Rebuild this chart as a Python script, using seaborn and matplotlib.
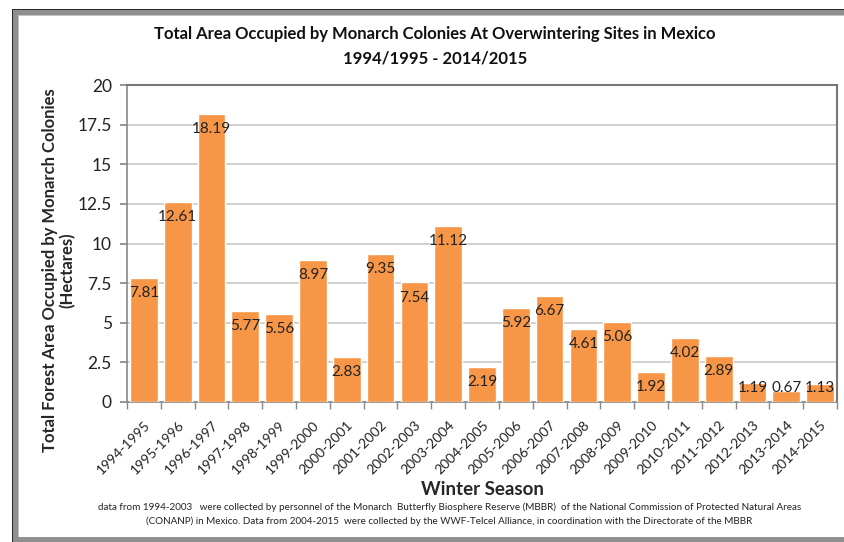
import numpy as np
import pandas as pd
import matplotlib
matplotlib.use("Agg")
import matplotlib.pyplot as plt
from matplotlib.patches import Rectangle
from matplotlib.ticker import FixedLocator
import seaborn as sns

seasons = ["1994-1995", "1995-1996", "1996-1997", "1997-1998", "1998-1999",
           "1999-2000", "2000-2001", "2001-2002", "2002-2003", "2003-2004",
           "2004-2005", "2005-2006", "2006-2007", "2007-2008", "2008-2009",
           "2009-2010", "2010-2011", "2011-2012", "2012-2013", "2013-2014",
           "2014-2015"]
area = [7.81, 12.61, 18.19, 5.77, 5.56, 8.97, 2.83, 9.35, 7.54, 11.12,
        2.19, 5.92, 6.67, 4.61, 5.06, 1.92, 4.02, 2.89, 1.19, 0.67, 1.13]
y_ticks = [0, 2.5, 5, 7.5, 10, 12.5, 15, 17.5, 20]

df = pd.DataFrame({"season": seasons, "area": area})

sns.set_theme(style="white")
plt.rcParams["font.family"] = ["Lato", "DejaVu Sans"]

W, H = 845, 542
fig = plt.figure(figsize=(W / 100, H / 100), dpi=100)
fig.patch.set_facecolor("white")
ax = fig.add_axes([127 / W, 1 - 402 / H, (837 - 127) / W, (402 - 85) / H])

sns.barplot(data=df, x="season", y="area", color="#F79646", saturation=1,
            width=0.82, ax=ax, zorder=3)

ax.set_xlim(-0.5, len(seasons) - 0.5)
ax.set_ylim(0, 20)
ax.set_yticks(y_ticks)
ax.set_yticklabels([f"{t:g}" for t in y_ticks], fontsize=12.5, color="#222222")
ax.yaxis.grid(True, color="#c8c8c8", linewidth=1.2, zorder=0)
ax.tick_params(axis="y", left=True, length=5, color="#888888", pad=6)

# category ticks sit between the bars
ax.set_xticks(range(len(seasons)))
ax.set_xticklabels(seasons, rotation=45, ha="right", rotation_mode="anchor",
                   fontsize=10, color="#222222")
ax.tick_params(axis="x", which="major", length=0, pad=12)
ax.xaxis.set_minor_locator(FixedLocator(np.arange(-0.5, len(seasons), 1)))
ax.tick_params(axis="x", which="minor", bottom=True, length=5, color="#888888")

for s in ["left", "bottom"]:
    ax.spines[s].set_color("#888888")
    ax.spines[s].set_linewidth(1.2)
for s in ["top", "right"]:
    ax.spines[s].set_color("#777777")
    ax.spines[s].set_linewidth(1.5)

for i, v in enumerate(area):
    ax.text(i, max(v - 0.95, 0.88), f"{v:.2f}", ha="center", va="center",
            fontsize=11, color="#222222", zorder=4)

ax.set_xlabel("Winter Season", fontsize=13.5, fontweight="bold")
ax.xaxis.set_label_coords(0.5, -0.25)
ax.set_ylabel("Total Forest Area Occupied by Monarch Colonies\n(Hectares)",
              fontsize=12, fontweight="bold", linespacing=1.08)
ax.yaxis.set_label_coords(-0.096, 0.416)
ax.yaxis.label.set_va("center")

fig.text(435 / W, 1 - 34 / H,
         "Total Area Occupied by Monarch Colonies At Overwintering Sites in Mexico",
         ha="center", va="center", fontsize=12, fontweight="bold", color="#111111")
fig.text(435 / W, 1 - 58 / H, "1994/1995 - 2014/2015",
         ha="center", va="center", fontsize=12, fontweight="bold", color="#111111")

fig.text(450 / W, 1 - 507 / H,
         "data from 1994-2003   were collected by personnel of the Monarch  Butterfly Biosphere Reserve (MBBR)  of the National Commission of Protected Natural Areas",
         ha="center", va="center", fontsize=7.1, color="#222222")
fig.text(449 / W, 1 - 521 / H,
         "(CONANP) in Mexico. Data from 2004-2015  were collected by the WWF-Telcel Alliance, in coordination with the Directorate of the MBBR",
         ha="center", va="center", fontsize=7.1, color="#222222")

# screenshot frame
def px_rect(x0, y0, x1, y1, color):
    fig.add_artist(Rectangle((x0 / W, 1 - y1 / H), (x1 - x0) / W, (y1 - y0) / H,
                             transform=fig.transFigure, facecolor=color,
                             edgecolor="none", zorder=10))

px_rect(12, 9, W, 15, "#8f8f8f")
px_rect(12, 9, 18, 537, "#8f8f8f")
px_rect(12, 537, W, H, "#8f8f8f")
px_rect(12, 9, W, 10, "#2a2a2a")
px_rect(12, 9, 13, H, "#2a2a2a")
px_rect(18, 15, 19, 537, "#c4c4c4")
px_rect(18, 15, W, 16, "#c4c4c4")

fig.savefig("out.png", dpi=100)
